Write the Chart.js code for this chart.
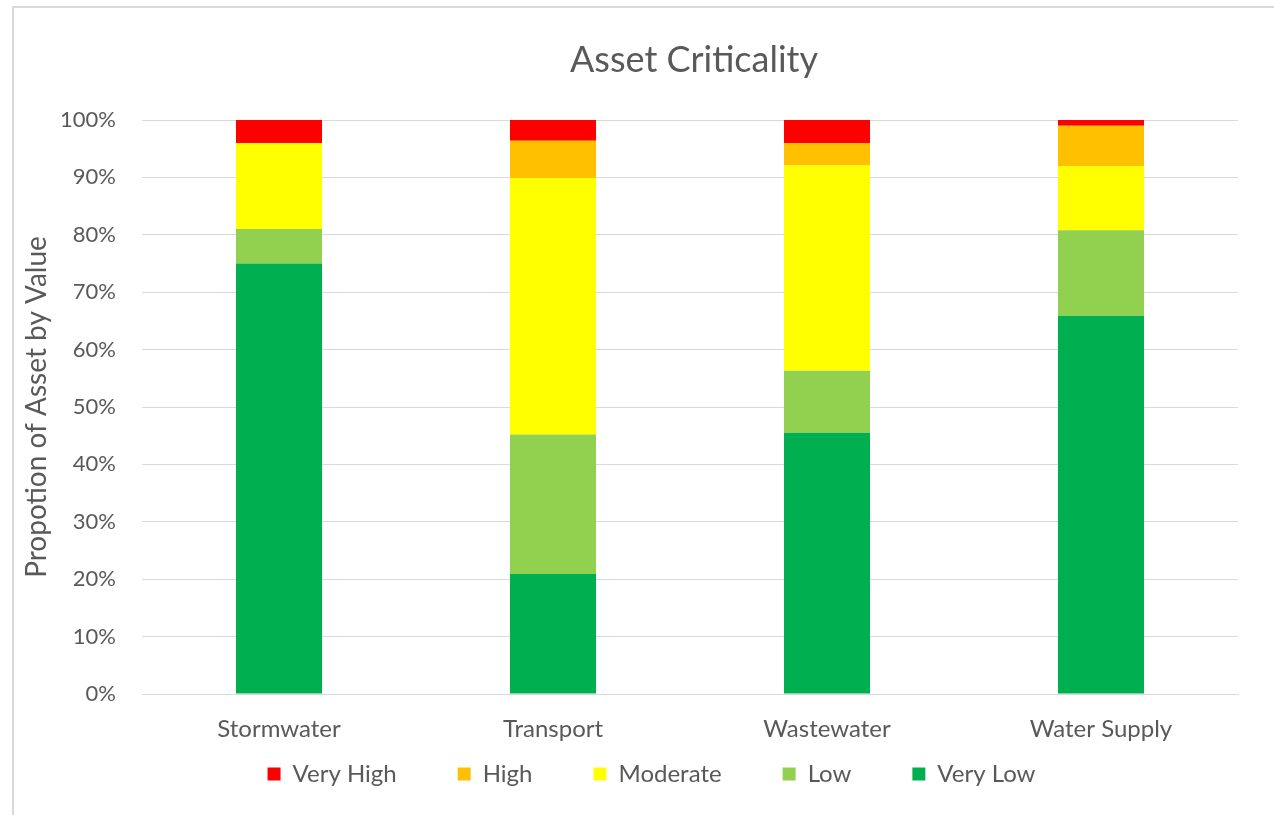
<!DOCTYPE html>
<html>
<head>
<meta charset="utf-8">
<script src="https://cdn.jsdelivr.net/npm/chart.js@4"></script>
<style>
  html, body { margin: 0; padding: 0; background: #fff; overflow: hidden; }
  #frame { position: absolute; left: 12px; top: 6px; width: 1300px; height: 830px;
           border-left: 2px solid #d9d9d9; border-top: 2px solid #d9d9d9; }
  #wrap { position: absolute; left: 0; top: 0; width: 1290px; height: 815px; }
</style>
</head>
<body>
<div id="frame"></div>
<div id="wrap"><canvas id="chart"></canvas></div>
<script>
const categories = ['Stormwater', 'Transport', 'Wastewater', 'Water Supply'];

// percentage of asset value per criticality band
const veryLow  = [75.0, 20.9, 45.5, 65.9];
const low      = [6.0, 24.3, 10.8, 14.9];
const moderate = [15.0, 44.7, 35.8, 11.2];
const high     = [0.0, 6.5, 3.9, 7.0];
const veryHigh = [4.0, 3.6, 4.0, 1.0];

const textColor = '#595959';
const fontFamily = 'Lato, "Open Sans", sans-serif';

// title centred over the plot area
const plotTitle = {
    id: 'plotTitle',
    afterDraw(chart) {
        const { ctx, chartArea } = chart;
        ctx.save();
        ctx.fillStyle = textColor;
        ctx.font = '36px ' + fontFamily;
        ctx.textAlign = 'center';
        ctx.textBaseline = 'middle';
        ctx.fillText('Asset Criticality', (chartArea.left + chartArea.right) / 2 + 4, 60);
        ctx.restore();
    }
};

const ctx = document.getElementById('chart').getContext('2d');
new Chart(ctx, {
    type: 'bar',
    data: {
        labels: categories,
        datasets: [
            { label: 'Very Low', data: veryLow, backgroundColor: '#00B050' },
            { label: 'Low', data: low, backgroundColor: '#92D050' },
            { label: 'Moderate', data: moderate, backgroundColor: '#FFFF00' },
            { label: 'High', data: high, backgroundColor: '#FFC000' },
            { label: 'Very High', data: veryHigh, backgroundColor: '#FF0000' }
        ]
    },
    options: {
        responsive: true,
        maintainAspectRatio: false,
        animation: false,
        layout: { padding: { left: 13, right: 0, top: 120, bottom: 19 } },
        datasets: { bar: { categoryPercentage: 1, barPercentage: 0.314 } },
        plugins: {
            title: { display: false },
            tooltip: { enabled: false },
            legend: {
                position: 'bottom',
                reverse: true,
                labels: {
                    color: textColor,
                    font: { family: fontFamily, size: 24 },
                    boxWidth: 13,
                    boxHeight: 13,
                    padding: 61
                }
            }
        },
        scales: {
            x: {
                stacked: true,
                grid: { display: false },
                border: { color: '#d9d9d9', width: 1 },
                // mirrored labels are not clipped to the thin axis box;
                // the negative padding pushes them back below the axis
                ticks: { color: textColor, font: { family: fontFamily, size: 24 }, mirror: true, padding: -50 },
                afterFit(scale) { scale.height = 7; }
            },
            y: {
                stacked: true,
                min: 0,
                max: 100,
                grid: { color: '#d9d9d9', lineWidth: 1, drawTicks: false },
                border: { display: false },
                ticks: {
                    stepSize: 10,
                    color: textColor,
                    font: { family: fontFamily, size: 22 },
                    padding: 26,
                    callback: v => v + '%'
                },
                title: {
                    display: true,
                    text: 'Propotion of Asset by Value',
                    color: textColor,
                    font: { family: fontFamily, size: 28 },
                    padding: { top: 7, bottom: 0 }
                },
                afterFit(scale) { scale.width = 129; }
            },
            y2: {
                position: 'right',
                display: true,
                grid: { display: false },
                border: { display: false },
                ticks: { display: false },
                afterFit(scale) { scale.width = 52; }
            }
        }
    },
    plugins: [plotTitle]
});
</script>
</body>
</html>
